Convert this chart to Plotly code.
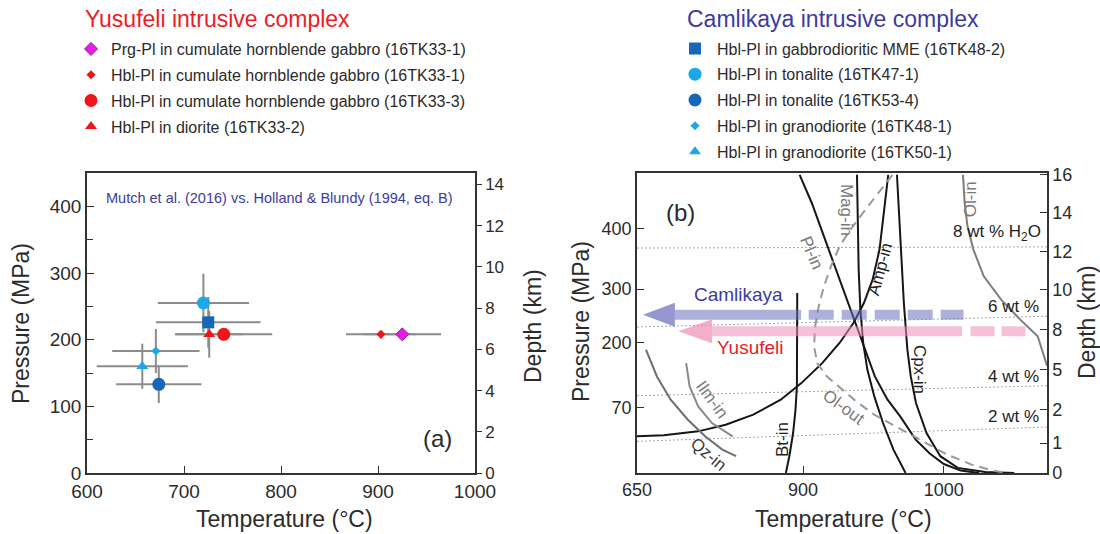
import numpy as np
import plotly.graph_objects as go

W, H = 1100, 534
FONT = "Liberation Sans, Arial, Helvetica, sans-serif"
INK = "#2b2b2b"
BLUE_TXT = "#3d3b9e"
RED_TXT = "#ee1c25"

# ---------------- (a) amphibole-plagioclase thermobarometry ----------------
sample_names = [
    "Prg-Pl in cumulate hornblende gabbro (16TK33-1)",
    "Hbl-Pl in cumulate hornblende gabbro (16TK33-1)",
    "Hbl-Pl in cumulate hornblende gabbro (16TK33-3)",
    "Hbl-Pl in diorite (16TK33-2)",
    "Hbl-Pl in gabbrodioritic MME (16TK48-2)",
    "Hbl-Pl in tonalite (16TK47-1)",
    "Hbl-Pl in tonalite (16TK53-4)",
    "Hbl-Pl in granodiorite (16TK48-1)",
    "Hbl-Pl in granodiorite (16TK50-1)",
]
sample_complex = ["Yusufeli"] * 4 + ["Camlikaya"] * 5
temperature_c = [925, 903, 741, 726, 725, 720, 674, 671, 657]
pressure_mpa = [208, 208, 208, 208, 226, 255, 133, 183, 160]
temperature_err = [40, 36, 50, 35, 54, 47, 44, 45, 47]
pressure_err = [0, 0, 0, 35, 38, 44, 28, 33, 34]

MAGENTA, RED, DARK_BLUE, LIGHT_BLUE = "#e41ce6", "#f2141b", "#1667b8", "#1aa9e6"
sample_style = [
    ("diamond", MAGENTA, 10),
    ("diamond", RED, 7),
    ("circle", RED, 13),
    ("triangle-up", RED, 10.5),
    ("square", DARK_BLUE, 12),
    ("circle", LIGHT_BLUE, 13),
    ("circle", DARK_BLUE, 13),
    ("diamond", LIGHT_BLUE, 7),
    ("triangle-up", LIGHT_BLUE, 10.5),
]

a_temp_ticks = [600, 700, 800, 900, 1000]
a_pressure_ticks = [0, 100, 200, 300, 400]
a_depth_ticks = [0, 2, 4, 6, 8, 10, 12, 14]
A_P_MAX = 450
A_DEPTH_MAX = 14.56

# ---------------- (b) experimental phase relations ----------------
# depth scale of the diagram (km) and where each depth sits along the axis (0 = bottom, 1 = top)
depth_ticks = [0, 1, 2, 5, 8, 10, 12, 14, 16]
depth_axis_frac = [0.0, 0.1, 0.211, 0.344, 0.478, 0.611, 0.739, 0.867, 0.994]
pressure_ticks = [70, 200, 300, 400]
pressure_tick_depth = [2.18, 7.06, 10.03, 13.2]
b_temp_ticks = [650, 900, 1000]
B_T_MAX = 1073.3

phase_curves = {
    "Bt-in": ([891.2, 891.2, 890.7, 888.6, 885.0, 879.3, 874.1],
              [9.83, 6.25, 3.75, 2.0, 1.3, 0.56, 0.0]),
    "Amp-in": ([650, 690.4, 742.1, 783.5, 825.0, 866.4, 897.4, 913.6, 925.9, 935.8,
                943.2, 949.4, 954.3, 956.8, 959.3, 960.5],
               [1.2, 1.23, 1.35, 1.55, 1.85, 2.75, 4.0, 5.5, 7.0, 8.33,
                9.33, 10.52, 12.09, 13.65, 15.22, 16.0]),
    "Pl-in (solid)": ([894.8, 906.2, 914.8, 923.5, 930.9, 938.3, 944, 951, 960, 969,
                       980, 990, 1000, 1012, 1025],
                      [16, 14.52, 12.78, 11.04, 9.5, 8.17, 6.5, 4.5, 2.75, 1.8,
                       1.1, 0.65, 0.3, 0.08, 0.0]),
    "Mag-in": ([938.3, 938.8, 939.5, 940.7, 942.7, 945.7, 950.6, 956.8, 964.2, 972.8],
               [16, 13.65, 11.04, 9.0, 7.0, 5.0, 3.0, 1.6, 0.78, 0.0]),
    "Cpx-in": ([966.7, 969.1, 971.6, 974.1, 976.5, 980.2, 987.7, 997.5, 1009.9, 1029.6, 1050],
               [16, 12.78, 9.33, 6.5, 4.5, 2.5, 1.3, 0.56, 0.17, 0.03, 0.0]),
    "Ol-in": ([1013.6, 1014.8, 1016.8, 1021, 1028.4, 1040.7, 1054.3, 1066.7, 1073.3],
              [16, 14.52, 13.3, 12.09, 10.7, 9.5, 8.5, 7.5, 5.3]),
    "Qz-in": ([663.5, 680.0, 700.7, 726.6, 752.5, 778.4, 799.1],
              [6.5, 4.5, 2.75, 1.7, 1.2, 0.78, 0.56]),
    "Ilm-in": ([724.0, 729.2, 742.1, 762.8, 793.9],
               [5.5, 3.75, 2.25, 1.6, 1.2]),
    "Pl-in / Ol-out": ([963.5, 953.1, 943.2, 934.6, 926.4, 919.8, 914.8, 911.1, 908.6, 907.8,
                        910, 917, 927, 938, 950.6, 967.9, 985.2, 1002.5, 1019.8, 1034.6, 1044.4],
                       [16, 15.04, 14.07, 13.22, 12.33, 11.22, 10.17, 9.17, 8.17, 6.75,
                        5.5, 4.5, 3.6, 2.6, 1.85, 1.45, 1.05, 0.61, 0.28, 0.08, 0.0]),
}
curve_style = {
    "Bt-in": dict(color="#161616", width=2),
    "Amp-in": dict(color="#161616", width=2),
    "Pl-in (solid)": dict(color="#161616", width=2),
    "Mag-in": dict(color="#161616", width=2),
    "Cpx-in": dict(color="#161616", width=2),
    "Ol-in": dict(color="#7d7d7d", width=2),
    "Qz-in": dict(color="#6e6e6e", width=2),
    "Ilm-in": dict(color="#8a8a8a", width=2),
    "Pl-in / Ol-out": dict(color="#9a9a9a", width=2, dash="9px,6px"),
}

# H2O isopleths: depth at 650 °C and at the hot edge of the diagram
h2o_labels = ["8 wt % H<sub>2</sub>O", "6 wt %", "4 wt %", "2 wt %"]
h2o_depth_cold = [12.17, 8.13, 3.05, 1.05]
h2o_depth_hot = [12.23, 8.67, 3.8, 1.48]

# crystallisation paths of the two complexes (temperature range at a given depth)
paths = {
    "Camlikaya": dict(depth=8.75, tip=659, head=707, solid_end=897, dash_start=904, end=1014),
    "Yusufeli": dict(depth=7.87, tip=712, head=763, solid_end=1013, dash_start=1019, end=1058),
}
path_style = {
    "Camlikaya": dict(rgb=(110, 110, 190), shaft=0.55, head=0.72, dash="25px,8px",
                      text_color=BLUE_TXT),
    "Yusufeli": dict(rgb=(238, 140, 180), shaft=0.55, head=0.7, dash="24px,7px",
                     text_color=RED_TXT),
}


def t_axis(t):
    """Temperature -> position on the (b) temperature axis (compressed below 900 °C)."""
    t = np.asarray(t, dtype=float)
    return np.where(t >= 900, t, 900 - (900 - t) * 118.0 / 250.0)


def d_axis(d):
    """Depth (km) -> position on the (b) depth axis."""
    return np.interp(np.asarray(d, dtype=float), depth_ticks, depth_axis_frac)


def px(x):
    return x / W


def py(y):
    return 1 - y / H


fig = go.Figure()

# ---- (a): error bars first, then symbols ----
for i in range(len(sample_names)):
    fig.add_trace(go.Scatter(
        x=[temperature_c[i]], y=[pressure_mpa[i]], mode="markers",
        marker=dict(size=1, color="rgba(0,0,0,0)"),
        error_x=dict(type="data", array=[temperature_err[i]], color="#8c8c8c",
                     thickness=2, width=0),
        error_y=dict(type="data", array=[pressure_err[i]], color="#8c8c8c",
                     thickness=2, width=0, visible=pressure_err[i] > 0),
        showlegend=False, hoverinfo="skip", xaxis="x", yaxis="y",
    ))

for i, name in enumerate(sample_names):
    sym, col, size = sample_style[i]
    line = dict(width=1, color="#9a1aa0") if col == MAGENTA else dict(width=0)
    fig.add_trace(go.Scatter(
        x=[temperature_c[i]], y=[pressure_mpa[i]], mode="markers", name=name,
        marker=dict(symbol=sym, color=col, size=size, line=line),
        legend="legend" if sample_complex[i] == "Yusufeli" else "legend2",
        legendgroup=name + str(i), xaxis="x", yaxis="y",
    ))

# depth axis twin for (a)
fig.add_trace(go.Scatter(x=[None], y=[None], xaxis="x", yaxis="y2", showlegend=False))

# ---- (b): H2O isopleths ----
for lab, d0, d1 in zip(h2o_labels, h2o_depth_cold, h2o_depth_hot):
    fig.add_trace(go.Scatter(
        x=t_axis([650, B_T_MAX]), y=d_axis([d0, d1]), mode="lines",
        line=dict(color="#a8a8a8", width=1, dash="2px,2px"),
        showlegend=False, hoverinfo="skip", xaxis="x2", yaxis="y3",
    ))

# ---- (b): phase boundaries ----
for name, (t, d) in phase_curves.items():
    fig.add_trace(go.Scatter(
        x=t_axis(t), y=d_axis(d), mode="lines", line=curve_style[name],
        showlegend=False, hoverinfo="skip", xaxis="x2", yaxis="y3",
    ))

# ---- (b): crystallisation-path arrows ----
HEAD_HALF = 12 / 300.0  # half height of arrow heads in axis units
for key, p in paths.items():
    st = path_style[key]
    r, g, b = st["rgb"]
    yc = float(d_axis(p["depth"]))
    fig.add_trace(go.Scatter(
        x=t_axis([p["head"], p["solid_end"]]), y=[yc, yc], mode="lines",
        line=dict(color=f"rgba({r},{g},{b},{st['shaft']})", width=10),
        showlegend=False, hoverinfo="skip", xaxis="x2", yaxis="y3",
    ))
    fig.add_trace(go.Scatter(
        x=t_axis([p["dash_start"], p["end"]]), y=[yc, yc], mode="lines",
        line=dict(color=f"rgba({r},{g},{b},{st['shaft']})", width=10, dash=st["dash"]),
        showlegend=False, hoverinfo="skip", xaxis="x2", yaxis="y3",
    ))
    hx = t_axis([p["tip"], p["head"], p["head"], p["tip"]])
    fig.add_trace(go.Scatter(
        x=hx, y=[yc, yc + HEAD_HALF, yc - HEAD_HALF, yc], mode="lines",
        fill="toself", fillcolor=f"rgba({r},{g},{b},{st['head']})",
        line=dict(width=0, color="rgba(0,0,0,0)"),
        showlegend=False, hoverinfo="skip", xaxis="x2", yaxis="y3",
    ))

fig.add_trace(go.Scatter(x=[None], y=[None], xaxis="x2", yaxis="y4", showlegend=False))

# ---------------- layout ----------------
A_LEFT, A_RIGHT, B_LEFT, B_RIGHT = 87, 475, 637, 1047
TOP, BOTTOM = 173, 473
ydom = [py(BOTTOM), py(TOP)]
axis_common = dict(showgrid=False, zeroline=False, showline=True, linecolor="#333333",
                   linewidth=1.5, tickcolor="#333333", tickwidth=1.3, automargin=False,
                   tickfont=dict(family=FONT, size=19, color=INK))

layout = dict(
    width=W, height=H, margin=dict(l=0, r=0, t=0, b=0, autoexpand=False),
    paper_bgcolor="white", plot_bgcolor="white",
    font=dict(family=FONT, color=INK),
    xaxis=dict(axis_common, domain=[px(A_LEFT), px(A_RIGHT)], range=[600, 1000],
               tickmode="array", tickvals=a_temp_ticks, ticks="inside", ticklen=7,
               mirror=True, anchor="y"),
    yaxis=dict(axis_common, domain=ydom, range=[0, A_P_MAX], tickmode="array",
               tickvals=a_pressure_ticks, ticks="inside", ticklen=7, anchor="x",
               minor=dict(tickvals=[50, 150, 250, 350], ticks="inside", ticklen=6,
                          tickcolor="#333333")),
    yaxis2=dict(axis_common, domain=ydom, range=[0, A_DEPTH_MAX], overlaying="y",
                side="right", anchor="x", tickmode="array", tickvals=a_depth_ticks,
                ticks="outside", ticklen=5,
                tickfont=dict(family=FONT, size=17, color=INK)),
    xaxis2=dict(axis_common, domain=[px(B_LEFT), px(B_RIGHT)],
                range=[float(t_axis(650)), B_T_MAX], tickmode="array",
                tickvals=list(t_axis(b_temp_ticks)), ticktext=[str(v) for v in b_temp_ticks],
                ticks="inside", ticklen=7, mirror=True, anchor="y3",
                tickfont=dict(family=FONT, size=18, color=INK)),
    yaxis3=dict(axis_common, domain=ydom, range=[0, 1], anchor="x2", tickmode="array",
                tickvals=list(d_axis(pressure_tick_depth)),
                ticktext=[str(v) for v in pressure_ticks], ticks="inside", ticklen=7,
                tickfont=dict(family=FONT, size=18, color=INK)),
    yaxis4=dict(axis_common, domain=ydom, range=[0, 1], overlaying="y3", side="right",
                anchor="x2", tickmode="array", tickvals=list(d_axis(depth_ticks)),
                ticktext=[str(v) for v in depth_ticks], ticks="inside", ticklen=7,
                tickfont=dict(family=FONT, size=18, color=INK)),
    legend=dict(x=px(71), y=py(32), xanchor="left", yanchor="top",
                bgcolor="rgba(0,0,0,0)", tracegroupgap=2, itemsizing="trace",
                font=dict(family=FONT, size=16, color=INK)),
    legend2=dict(x=px(673), y=py(31.5), xanchor="left", yanchor="top", itemwidth=34,
                 bgcolor="rgba(0,0,0,0)", tracegroupgap=2, itemsizing="trace",
                 font=dict(family=FONT, size=16, color=INK)),
)
fig.update_layout(**layout)

ann = []


def paper_text(text, x, y, size, color=INK, angle=0, xanchor="center"):
    ann.append(dict(text=text, x=px(x), y=py(y), xref="paper", yref="paper",
                    showarrow=False, xanchor=xanchor, yanchor="middle", textangle=angle,
                    font=dict(family=FONT, size=size, color=color)))


def data_text(text, t, d, size, color=INK, angle=0):
    ann.append(dict(text=text, x=float(t_axis(t)), y=float(d_axis(d)), xref="x2", yref="y3",
                    showarrow=False, xanchor="center", yanchor="middle", textangle=angle,
                    font=dict(family=FONT, size=size, color=color)))


# legend headings
paper_text("Yusufeli intrusive complex", 83, 19, 23, RED_TXT, xanchor="left")
paper_text("Camlikaya intrusive complex", 685, 19, 23, BLUE_TXT, xanchor="left")

# axis titles
paper_text("Pressure (MPa)", 21, 324, 23, angle=-90)
paper_text("Depth (km)", 533, 326, 23, angle=-90)
paper_text("Temperature (°C)", 284, 519, 23)
paper_text("Pressure (MPa)", 581, 322, 23, angle=-90)
paper_text("Depth (km)", 1087, 322, 23, angle=-90)
paper_text("Temperature (°C)", 843, 519, 23)

# panel notes
paper_text("Mutch et al. (2016) vs. Holland &amp; Blundy (1994, eq. B)", 280, 198, 14.5, BLUE_TXT)
paper_text("(a)", 437, 438, 24)
paper_text("(b)", 680, 212, 24)

# panel (b) labels
GRAY_LAB, DARK_LAB = "#7a7a7a", "#1e1e1e"
curve_labels = [
    ("Mag-in", 931, 14.17, 90, GRAY_LAB),
    ("Pl-in", 906, 11.95, 67, GRAY_LAB),
    ("Amp-in", 955, 11.1, -75, DARK_LAB),
    ("Cpx-in", 982.3, 5.0, 90, DARK_LAB),
    ("Ol-in", 1019, 14.7, -90, GRAY_LAB),
    ("Ol-out", 929, 2.13, 36, GRAY_LAB),
    ("Bt-in", 868.8, 1.1, -90, DARK_LAB),
    ("Ilm-in", 762.7, 2.75, 54, GRAY_LAB),
    ("Qz-in", 757.6, 0.61, 40, "#3a3a3a"),
]
for text, t, d, ang, col in curve_labels:
    data_text(text, t, d, 17, col, ang)

h2o_label_pos = [(1037.9, 12.97), (1049.6, 9.17), (1049.6, 4.5), (1049.6, 1.8)]
for lab, (t, d) in zip(h2o_labels, h2o_label_pos):
    data_text(lab, t, d, 17, DARK_LAB)

data_text("Camlikaya", 803, 9.75, 19, path_style["Camlikaya"]["text_color"])
data_text("Yusufeli", 820.8, 6.65, 19, path_style["Yusufeli"]["text_color"])

fig.update_layout(annotations=ann)
# page body without the default 8 px margin so the 1100x534 figure fills the window
fig.write_html("out.html", post_script="document.body.style.margin='0';")
